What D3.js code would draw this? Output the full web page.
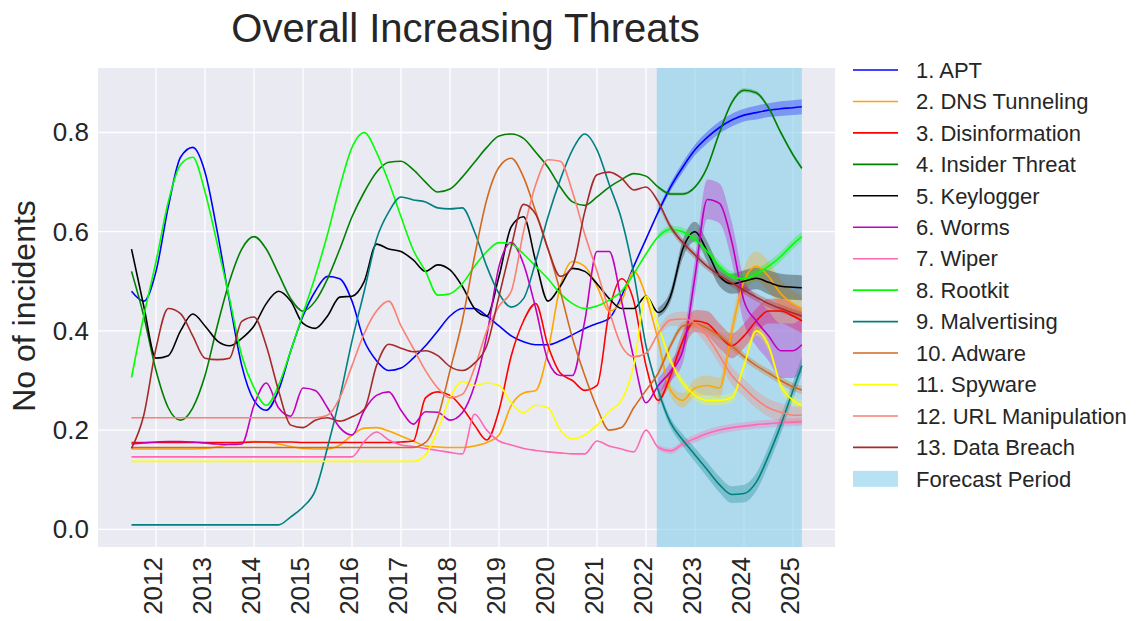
<!DOCTYPE html>
<html>
<head>
<meta charset="utf-8">
<script src="https://cdn.jsdelivr.net/npm/d3@7"></script>
<style>
  body { margin: 0; background: #ffffff; }
  svg { display: block; font-family: "Liberation Sans", Arial, sans-serif; }
</style>
</head>
<body>
<svg id="chart" width="1141" height="621"></svg>
<script>
// Quarterly sample dates (fractional years); the last point closes the forecast window
const dates = [2011.5, 2011.75, 2012.0, 2012.25, 2012.5, 2012.75, 2013.0, 2013.25, 2013.5, 2013.75,
  2014.0, 2014.25, 2014.5, 2014.75, 2015.0, 2015.25, 2015.5, 2015.75, 2016.0, 2016.25,
  2016.5, 2016.75, 2017.0, 2017.25, 2017.5, 2017.75, 2018.0, 2018.25, 2018.5, 2018.75,
  2019.0, 2019.25, 2019.5, 2019.75, 2020.0, 2020.25, 2020.5, 2020.75, 2021.0, 2021.25,
  2021.5, 2021.75, 2022.0, 2022.25, 2022.5, 2022.75, 2023.0, 2023.25, 2023.5, 2023.75,
  2024.0, 2024.25, 2024.5, 2024.75, 2025.0, 2025.18];

// Normalised incident levels per threat
const apt = [0.48, 0.46, 0.52, 0.65, 0.75, 0.77, 0.72, 0.60, 0.46, 0.33,
  0.26, 0.24, 0.28, 0.36, 0.43, 0.48, 0.51, 0.505, 0.46, 0.38,
  0.34, 0.32, 0.325, 0.345, 0.37, 0.40, 0.43, 0.445, 0.445, 0.43,
  0.41, 0.39, 0.378, 0.372, 0.372, 0.38, 0.392, 0.405, 0.415, 0.425,
  0.47, 0.53, 0.585, 0.64, 0.69, 0.73, 0.765, 0.79, 0.81, 0.825,
  0.835, 0.84, 0.845, 0.848, 0.85, 0.852];
const dnsTunneling = [0.162, 0.162, 0.162, 0.162, 0.162, 0.162, 0.163, 0.166, 0.172, 0.176,
  0.177, 0.176, 0.172, 0.167, 0.163, 0.162, 0.162, 0.17, 0.19, 0.204,
  0.205, 0.198, 0.188, 0.178, 0.168, 0.166, 0.165, 0.165, 0.168, 0.175,
  0.19, 0.25, 0.275, 0.28, 0.36, 0.49, 0.54, 0.53, 0.49, 0.44,
  0.46, 0.52, 0.47, 0.38, 0.28, 0.26, 0.285, 0.29, 0.285, 0.40,
  0.50, 0.53, 0.51, 0.475, 0.455, 0.445];
const disinformation = [0.175, 0.175, 0.175, 0.175, 0.175, 0.175, 0.175, 0.175, 0.175, 0.175,
  0.176, 0.176, 0.176, 0.176, 0.175, 0.175, 0.175, 0.175, 0.175, 0.175,
  0.175, 0.175, 0.176, 0.178, 0.265, 0.277, 0.27, 0.245, 0.21, 0.18,
  0.24, 0.35, 0.42, 0.455, 0.37, 0.315, 0.30, 0.28, 0.29, 0.44,
  0.505, 0.46, 0.33, 0.26, 0.31, 0.38, 0.42, 0.415, 0.39, 0.37,
  0.39, 0.42, 0.44, 0.44, 0.43, 0.42];
const insiderThreat = [0.52, 0.43, 0.32, 0.245, 0.22, 0.245, 0.31, 0.41, 0.50, 0.565,
  0.59, 0.565, 0.515, 0.465, 0.44, 0.46, 0.505, 0.565, 0.63, 0.68,
  0.72, 0.74, 0.742, 0.725, 0.70, 0.68, 0.686, 0.71, 0.74, 0.77,
  0.793, 0.797, 0.788, 0.76, 0.73, 0.69, 0.66, 0.653, 0.67, 0.69,
  0.705, 0.717, 0.712, 0.69, 0.676, 0.676, 0.69, 0.73, 0.80, 0.86,
  0.885, 0.88, 0.85, 0.80, 0.755, 0.728];
const keylogger = [0.565, 0.45, 0.345, 0.35, 0.40, 0.434, 0.41, 0.38, 0.37, 0.385,
  0.41, 0.455, 0.48, 0.46, 0.415, 0.405, 0.43, 0.468, 0.47, 0.50,
  0.575, 0.565, 0.56, 0.543, 0.52, 0.533, 0.523, 0.49, 0.445, 0.43,
  0.51, 0.61, 0.63, 0.54, 0.46, 0.49, 0.526, 0.52, 0.495, 0.465,
  0.445, 0.445, 0.47, 0.437, 0.47, 0.565, 0.60, 0.56, 0.51, 0.495,
  0.50, 0.506, 0.498, 0.49, 0.488, 0.487];
const worms = [0.172, 0.174, 0.176, 0.177, 0.177, 0.176, 0.174, 0.172, 0.171, 0.172,
  0.25, 0.295, 0.245, 0.228, 0.285, 0.28, 0.245, 0.205, 0.19, 0.24,
  0.27, 0.277, 0.24, 0.212, 0.237, 0.236, 0.22, 0.235, 0.29, 0.39,
  0.53, 0.578, 0.535, 0.445, 0.34, 0.31, 0.31, 0.42, 0.56, 0.56,
  0.46, 0.345, 0.255, 0.29, 0.318, 0.36, 0.51, 0.665, 0.657, 0.58,
  0.46, 0.42, 0.39, 0.36, 0.36, 0.372];
const wiper = [0.146, 0.146, 0.146, 0.146, 0.146, 0.146, 0.146, 0.146, 0.146, 0.146,
  0.146, 0.146, 0.146, 0.146, 0.146, 0.146, 0.146, 0.146, 0.146, 0.177,
  0.196, 0.18, 0.17, 0.167, 0.163, 0.159, 0.155, 0.152, 0.232, 0.2,
  0.178, 0.17, 0.163, 0.159, 0.156, 0.154, 0.152, 0.152, 0.178, 0.168,
  0.162, 0.156, 0.2, 0.165, 0.158, 0.172, 0.183, 0.193, 0.2, 0.205,
  0.208, 0.211, 0.213, 0.215, 0.216, 0.217];
const rootkit = [0.306, 0.43, 0.54, 0.66, 0.735, 0.75, 0.68, 0.575, 0.465, 0.35,
  0.285, 0.25, 0.29, 0.36, 0.435, 0.51, 0.595, 0.69, 0.77, 0.80,
  0.76, 0.70, 0.63, 0.563, 0.52, 0.472, 0.475, 0.495, 0.53, 0.56,
  0.578, 0.575, 0.555, 0.53, 0.505, 0.475, 0.455, 0.445, 0.45, 0.462,
  0.48, 0.515, 0.555, 0.59, 0.605, 0.60, 0.585, 0.56, 0.53, 0.51,
  0.505, 0.515, 0.53, 0.55, 0.575, 0.59];
const malvertising = [0.009, 0.009, 0.009, 0.009, 0.009, 0.009, 0.009, 0.009, 0.009, 0.009,
  0.009, 0.009, 0.009, 0.025, 0.045, 0.078, 0.165, 0.265, 0.38, 0.48,
  0.585, 0.64, 0.67, 0.664, 0.66, 0.648, 0.646, 0.648, 0.60, 0.53,
  0.475, 0.448, 0.465, 0.54, 0.63, 0.705, 0.765, 0.797, 0.765, 0.695,
  0.625, 0.515, 0.37, 0.28, 0.215, 0.18, 0.15, 0.12, 0.09, 0.07,
  0.072, 0.095, 0.148, 0.21, 0.28, 0.33];
const adware = [0.165, 0.165, 0.165, 0.165, 0.165, 0.165, 0.165, 0.165, 0.165, 0.165,
  0.165, 0.165, 0.165, 0.165, 0.165, 0.165, 0.165, 0.165, 0.165, 0.165,
  0.165, 0.165, 0.165, 0.165, 0.175, 0.225, 0.32, 0.42, 0.55, 0.665,
  0.73, 0.748, 0.71, 0.64, 0.565, 0.48, 0.385, 0.31, 0.245, 0.2,
  0.205, 0.245, 0.28, 0.315, 0.37, 0.41, 0.415, 0.405, 0.39, 0.37,
  0.348, 0.33, 0.315, 0.30, 0.287, 0.281];
const spyware = [0.137, 0.137, 0.137, 0.137, 0.137, 0.137, 0.137, 0.137, 0.137, 0.137,
  0.137, 0.137, 0.137, 0.137, 0.137, 0.137, 0.137, 0.137, 0.137, 0.137,
  0.137, 0.137, 0.137, 0.137, 0.15, 0.2, 0.265, 0.298, 0.29, 0.295,
  0.29, 0.255, 0.235, 0.25, 0.245, 0.2, 0.182, 0.19, 0.21, 0.238,
  0.26, 0.33, 0.47, 0.41, 0.34, 0.295, 0.27, 0.26, 0.26, 0.265,
  0.33, 0.40, 0.37, 0.29, 0.26, 0.249];
const urlManipulation = [0.225, 0.225, 0.225, 0.225, 0.225, 0.225, 0.225, 0.225, 0.225, 0.225,
  0.225, 0.225, 0.225, 0.225, 0.225, 0.225, 0.23, 0.265, 0.33, 0.395,
  0.44, 0.46, 0.41, 0.365, 0.32, 0.285, 0.265, 0.272, 0.325, 0.40,
  0.45, 0.48, 0.60, 0.695, 0.745, 0.742, 0.68, 0.595, 0.52, 0.44,
  0.37, 0.348, 0.355, 0.395, 0.422, 0.424, 0.415, 0.388, 0.35, 0.31,
  0.285, 0.262, 0.245, 0.236, 0.23, 0.23];
const dataBreach = [0.163, 0.23, 0.365, 0.445, 0.435, 0.39, 0.345, 0.342, 0.345, 0.419,
  0.428, 0.37, 0.28, 0.21, 0.205, 0.22, 0.225, 0.218, 0.227, 0.242,
  0.33, 0.373, 0.365, 0.358, 0.36, 0.35, 0.328, 0.32, 0.335, 0.37,
  0.47, 0.57, 0.655, 0.635, 0.565, 0.51, 0.53, 0.64, 0.715, 0.72,
  0.708, 0.684, 0.69, 0.66, 0.61, 0.578, 0.553, 0.53, 0.512, 0.497,
  0.482, 0.468, 0.455, 0.445, 0.436, 0.43];

// Half-width of the uncertainty band over the forecast points (2022.25 onwards)
const aptSpread = [0.006, 0.008, 0.01, 0.011, 0.012, 0.012, 0.013, 0.013, 0.014, 0.014, 0.015, 0.015, 0.015];
const dnsSpread = [0.01, 0.012, 0.015, 0.018, 0.02, 0.02, 0.022, 0.028, 0.03, 0.03, 0.028, 0.026, 0.025];
const disinfoSpread = [0.01, 0.015, 0.02, 0.022, 0.025, 0.025, 0.025, 0.025, 0.025, 0.025, 0.025, 0.025, 0.025];
const insiderSpread = [0.003, 0.003, 0.003, 0.003, 0.004, 0.004, 0.004, 0.004, 0.004, 0.004, 0.004, 0.004, 0.004];
const keyloggerSpread = [0.01, 0.012, 0.018, 0.02, 0.02, 0.02, 0.02, 0.022, 0.022, 0.024, 0.025, 0.025, 0.025];
const wormsSpread = [0.015, 0.02, 0.025, 0.035, 0.04, 0.04, 0.04, 0.045, 0.05, 0.05, 0.055, 0.055, 0.055];
const wiperSpread = [0.005, 0.006, 0.007, 0.008, 0.008, 0.008, 0.008, 0.008, 0.008, 0.008, 0.008, 0.008, 0.008];
const rootkitSpread = [0.006, 0.007, 0.008, 0.009, 0.01, 0.01, 0.01, 0.01, 0.01, 0.01, 0.01, 0.01, 0.01];
const malvertisingSpread = [0.008, 0.01, 0.012, 0.014, 0.015, 0.016, 0.017, 0.018, 0.018, 0.018, 0.018, 0.018, 0.018];
const adwareSpread = [0.006, 0.007, 0.008, 0.008, 0.008, 0.008, 0.008, 0.008, 0.008, 0.008, 0.008, 0.008, 0.008];
const spywareSpread = [0.008, 0.009, 0.01, 0.01, 0.01, 0.01, 0.01, 0.01, 0.01, 0.01, 0.01, 0.01, 0.01];
const urlSpread = [0.01, 0.012, 0.015, 0.016, 0.018, 0.018, 0.018, 0.018, 0.018, 0.018, 0.018, 0.018, 0.018];
const breachSpread = [0.006, 0.007, 0.008, 0.008, 0.008, 0.008, 0.008, 0.008, 0.008, 0.008, 0.008, 0.008, 0.008];

const seriesNames = ["1. APT", "2. DNS Tunneling", "3. Disinformation", "4. Insider Threat",
  "5. Keylogger", "6. Worms", "7. Wiper", "8. Rootkit", "9. Malvertising", "10. Adware",
  "11. Spyware", "12. URL Manipulation", "13. Data Breach"];
const seriesColors = ["#0000ff", "#ffa500", "#ff0000", "#008000", "#000000", "#bf00bf",
  "#ff69b4", "#00ff00", "#008080", "#d2691e", "#ffff00", "#fa8072", "#a52a2a"];
const seriesValues = [apt, dnsTunneling, disinformation, insiderThreat, keylogger, worms,
  wiper, rootkit, malvertising, adware, spyware, urlManipulation, dataBreach];
const seriesSpreads = [aptSpread, dnsSpread, disinfoSpread, insiderSpread, keyloggerSpread,
  wormsSpread, wiperSpread, rootkitSpread, malvertisingSpread, adwareSpread, spywareSpread,
  urlSpread, breachSpread];

const forecastStart = 2022.22;
const forecastEnd = 2025.18;
const forecastFirstIndex = 43;
const forecastLabel = "Forecast Period";

const xTickYears = [2012, 2013, 2014, 2015, 2016, 2017, 2018, 2019, 2020, 2021, 2022, 2023, 2024, 2025];
const yTickValues = [0.0, 0.2, 0.4, 0.6, 0.8];
const titleText = "Overall Increasing Threats";
const yLabelText = "No of incidents";

// ---- layout ----
const svg = d3.select("#chart");
const plot = { left: 98, right: 835, top: 68, bottom: 547 };
const textColor = "#262626";

const x = d3.scaleLinear().domain([2010.816, 2025.857]).range([plot.left, plot.right]);
const y = d3.scaleLinear().domain([-0.0357, 0.930]).range([plot.bottom, plot.top]);

// axes background
svg.append("rect")
  .attr("x", plot.left).attr("y", plot.top)
  .attr("width", plot.right - plot.left).attr("height", plot.bottom - plot.top)
  .attr("fill", "#eaeaf2");

// grid
const grid = svg.append("g");
grid.selectAll("line.vx").data(xTickYears).join("line")
  .attr("x1", d => x(d)).attr("x2", d => x(d))
  .attr("y1", plot.top).attr("y2", plot.bottom)
  .attr("stroke", "#ffffff").attr("stroke-width", 1.3);
grid.selectAll("line.hy").data(yTickValues).join("line")
  .attr("x1", plot.left).attr("x2", plot.right)
  .attr("y1", d => y(d)).attr("y2", d => y(d))
  .attr("stroke", "#ffffff").attr("stroke-width", 1.3);

// forecast window
svg.append("rect")
  .attr("x", x(forecastStart)).attr("y", plot.top)
  .attr("width", x(forecastEnd) - x(forecastStart)).attr("height", plot.bottom - plot.top)
  .attr("fill", "#87ceeb").attr("fill-opacity", 0.6);

// uncertainty bands
const band = d3.area()
  .x(d => x(d.t)).y0(d => y(d.v - d.s)).y1(d => y(d.v + d.s))
  .curve(d3.curveMonotoneX);
const bandLayer = svg.append("g");
seriesValues.forEach((vals, i) => {
  const pts = seriesSpreads[i].map((s, j) => ({
    t: dates[forecastFirstIndex + j], v: vals[forecastFirstIndex + j], s
  }));
  bandLayer.append("path").datum(pts)
    .attr("d", band)
    .attr("fill", seriesColors[i]).attr("fill-opacity", 0.3);
});

// lines
const line = d3.line().x(d => x(d.t)).y(d => y(d.v)).curve(d3.curveMonotoneX);
const lineLayer = svg.append("g");
seriesValues.forEach((vals, i) => {
  const pts = vals.map((v, j) => ({ t: dates[j], v }));
  lineLayer.append("path").datum(pts)
    .attr("d", line)
    .attr("fill", "none")
    .attr("stroke", seriesColors[i])
    .attr("stroke-width", 1.6)
    .attr("stroke-linejoin", "round");
});

// y axis labels
const yAxis = d3.axisLeft(y).tickValues(yTickValues).tickFormat(d3.format(".1f")).tickSize(0).tickPadding(9);
const gy = svg.append("g").attr("transform", `translate(${plot.left},0)`).call(yAxis);
gy.select(".domain").remove();
gy.selectAll("text").attr("font-size", 26).attr("fill", textColor)
  .attr("font-family", '"Liberation Sans", Arial, sans-serif');

// x axis labels (rotated)
const xLabels = svg.append("g");
xLabels.selectAll("text").data(xTickYears).join("text")
  .attr("transform", d => `translate(${x(d) - 3.5},557) rotate(-90)`)
  .attr("text-anchor", "end")
  .attr("dy", "0.35em")
  .attr("font-size", 26)
  .attr("fill", textColor)
  .text(d => d3.format("d")(d));

// title and axis title
svg.append("text")
  .attr("x", 465.5).attr("y", 42)
  .attr("text-anchor", "middle")
  .attr("font-size", 40)
  .attr("fill", textColor)
  .text(titleText);

svg.append("text")
  .attr("transform", "translate(35,306) rotate(-90)")
  .attr("text-anchor", "middle")
  .attr("font-size", 32)
  .attr("fill", textColor)
  .text(yLabelText);

// legend
const legend = svg.append("g");
const rowGap = 31.45;
seriesNames.forEach((name, i) => {
  const cy = 70 + i * rowGap;
  legend.append("line")
    .attr("x1", 853).attr("x2", 898).attr("y1", cy).attr("y2", cy)
    .attr("stroke", seriesColors[i]).attr("stroke-width", 1.6);
  legend.append("text")
    .attr("x", 916).attr("y", cy).attr("dy", "0.35em")
    .attr("font-size", 22).attr("fill", textColor)
    .text(name);
});
const fy = 70 + seriesNames.length * rowGap;
legend.append("rect")
  .attr("x", 853).attr("y", fy - 8).attr("width", 45).attr("height", 16)
  .attr("fill", "#87ceeb").attr("fill-opacity", 0.6);
legend.append("text")
  .attr("x", 916).attr("y", fy).attr("dy", "0.35em")
  .attr("font-size", 22).attr("fill", textColor)
  .text(forecastLabel);
</script>
</body>
</html>
